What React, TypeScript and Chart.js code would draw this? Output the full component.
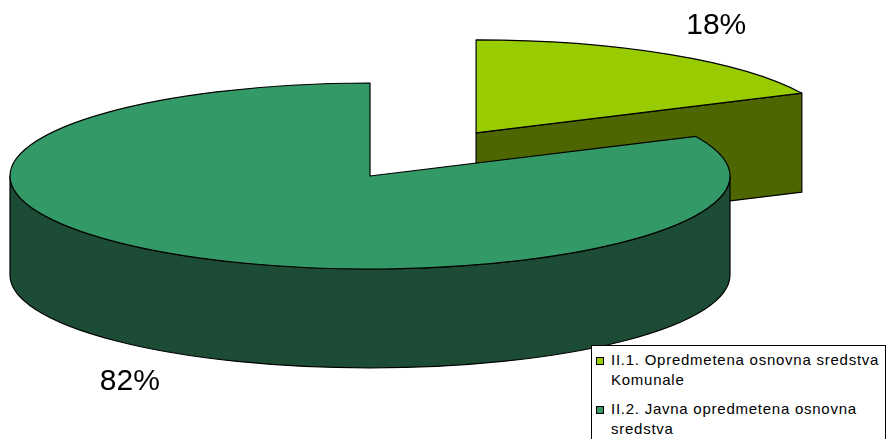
import { useEffect, useRef } from "react";
import { Chart, registerables } from "chart.js";

Chart.register(...registerables);

// ---- data ----
const categories = [
  "II.1. Opredmetena osnovna sredstva Komunale",
  "II.2. Javna opredmetena osnovna sredstva",
];
const values = [18, 82];
const topColors = ["#99CC00", "#339966"];
const sideColors = ["#4D6600", "#1C4C35"];
const explodeFractions = [0.55, 0];

// ---- 3D look ----
const TILT = 93 / 360;
const DEPTH = 99 / 360;
const LABEL_KX = 1.245;
const LABEL_KY = 1.36;

const pie3d = {
  id: "pie3d",
  beforeDatasetsDraw(chart: any) {
    const ctx: CanvasRenderingContext2D = chart.ctx;
    const meta = chart.getDatasetMeta(0);
    const area = chart.chartArea;
    const rx = area.width / 2;
    const ry = rx * TILT;
    const depth = rx * DEPTH;
    const ds = chart.data.datasets[0];
    const total = (ds.data as number[]).reduce((a, b) => a + b, 0);

    const slices = meta.data.map((arc: any, i: number) => {
      const s = arc.startAngle;
      const e = arc.endAngle;
      const mid = (s + e) / 2;
      const f = explodeFractions[i] || 0;
      const cx = arc.x + f * rx * Math.cos(mid);
      const cy = arc.y + f * ry * Math.sin(mid);
      return { i, s, e, mid, cx, cy };
    });
    const order = [...slices].sort((a, b) => a.cy - b.cy);

    ctx.save();
    ctx.lineWidth = 1.2;
    ctx.strokeStyle = "#000";
    ctx.lineJoin = "round";

    const P = (cx: number, cy: number, t: number, dy = 0) => [
      cx + rx * Math.cos(t),
      cy + ry * Math.sin(t) + dy,
    ];

    for (const sl of order) {
      const { i, s, e, cx, cy } = sl;
      const side = sideColors[i];
      // radial faces
      const faces: number[] = [];
      if (-Math.cos(s) > 1e-6) faces.push(s);
      if (Math.cos(e) > 1e-6) faces.push(e);
      for (const t of faces) {
        const [px, py] = P(cx, cy, t);
        ctx.beginPath();
        ctx.moveTo(cx, cy);
        ctx.lineTo(px, py);
        ctx.lineTo(px, py + depth);
        ctx.lineTo(cx, cy + depth);
        ctx.closePath();
        ctx.fillStyle = side;
        ctx.fill();
        ctx.stroke();
      }
      // outer rim (front half only)
      for (const k of [-2, 0, 2]) {
        const lo = Math.max(s, k * Math.PI);
        const hi = Math.min(e, k * Math.PI + Math.PI);
        if (hi - lo > 1e-6) {
          const [bx, by] = P(cx, cy, hi);
          ctx.beginPath();
          ctx.ellipse(cx, cy, rx, ry, 0, lo, hi, false);
          ctx.lineTo(bx, by + depth);
          ctx.ellipse(cx, cy + depth, rx, ry, 0, hi, lo, true);
          ctx.closePath();
          ctx.fillStyle = side;
          ctx.fill();
          ctx.stroke();
        }
      }
      // top face
      ctx.beginPath();
      ctx.moveTo(cx, cy);
      ctx.ellipse(cx, cy, rx, ry, 0, s, e, false);
      ctx.closePath();
      ctx.fillStyle = topColors[i];
      ctx.fill();
      ctx.stroke();
    }

    // percentage labels
    ctx.fillStyle = "#000";
    ctx.font = '30px "Liberation Sans", Arial, sans-serif';
    ctx.textAlign = "center";
    ctx.textBaseline = "middle";
    for (const sl of slices) {
      const v = (ds.data as number[])[sl.i];
      const pct = Math.round((v / total) * 100) + "%";
      const sn = Math.sin(sl.mid);
      const lx = sl.cx + LABEL_KX * rx * Math.cos(sl.mid);
      const ly = sl.cy + LABEL_KY * ry * sn + (sn > 0 ? depth : 0);
      ctx.fillText(pct, lx, ly);
    }
    ctx.restore();
    return false;
  },
};

function Legend() {
  return (
    <div
      style={{
        position: "absolute",
        left: 591,
        top: 345,
        width: 295,
        height: 95,
        boxSizing: "border-box",
        border: "1px solid #000",
        background: "#fff",
        fontFamily: '"Liberation Sans", Arial, sans-serif',
        fontSize: 15,
        letterSpacing: "0.75px",
        lineHeight: "20px",
        color: "#000",
      }}
    >
      {categories.map((c, i) => (
        <div
          key={c}
          style={{ position: "absolute", left: 0, top: 4 + i * 49, width: 293 }}
        >
          <div
            style={{
              position: "absolute",
              left: 4,
              top: 7,
              width: 8,
              height: 8,
              boxSizing: "border-box",
              border: "1px solid #000",
              background: topColors[i],
            }}
          />
          <div style={{ position: "absolute", left: 19, top: 0, width: 273 }}>{c}</div>
        </div>
      ))}
    </div>
  );
}

export default function App() {
  const ref = useRef<HTMLCanvasElement | null>(null);
  useEffect(() => {
    if (!ref.current) return;
    const chart = new Chart(ref.current, {
      type: "pie",
      data: {
        labels: categories,
        datasets: [{ data: values, backgroundColor: topColors, borderWidth: 0 }],
      },
      options: {
        responsive: false,
        animation: false,
        layout: { padding: { left: 10, right: 156, top: 0, bottom: 87 } },
        plugins: { legend: { display: false }, tooltip: { enabled: false } },
      },
      plugins: [pie3d as any],
    });
    return () => chart.destroy();
  }, []);
  return (
    <div
      style={{
        position: "fixed",
        left: 0,
        top: 0,
        width: 886,
        height: 439,
        overflow: "hidden",
        background: "#fff",
      }}
    >
      <canvas ref={ref} width={886} height={439} style={{ display: "block" }} />
      <Legend />
    </div>
  );
}
